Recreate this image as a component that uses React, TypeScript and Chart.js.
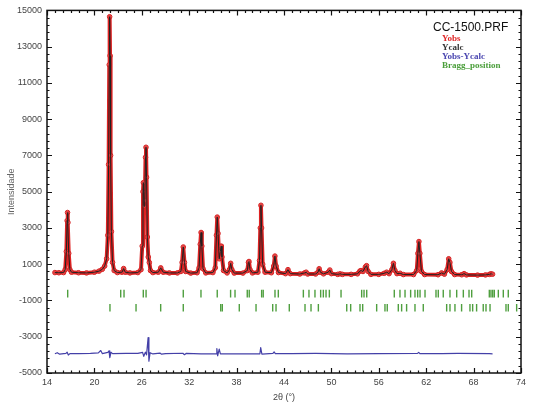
import React, { useEffect, useRef } from "react";
import { Chart, registerables } from "chart.js";

Chart.register(...registerables);

// ---- Data ----
const X_MIN = 14;
const X_MAX = 74;
const X_STEP = 6;
const Y_MIN = -5000;
const Y_MAX = 15000;
const Y_STEP = 2000;

const legendTitle = "CC-1500.PRF";
const legendLabels = ["Yobs", "Ycalc", "Yobs-Ycalc", "Bragg_position"];
const legendColors = ["#e02828", "#333333", "#4a46b0", "#4a9e3a"];

const xTitle = "2θ (°)";
const yTitle = "Intensidade";

// observed profile [2θ, intensity]
const yObsPoints: [number, number][] = [
  [15.0, 540], [15.5, 530], [16.1, 540], [16.3, 700], [16.45, 1700], [16.55, 3400], [16.6, 3850],
  [16.65, 3300], [16.75, 1600], [16.9, 700], [17.1, 560], [18.0, 530], [19.0, 520], [20.0, 560],
  [20.6, 620], [21.0, 720], [21.3, 900], [21.55, 1300], [21.7, 2600], [21.8, 6500], [21.88, 12000],
  [21.93, 14650], [21.98, 12500], [22.05, 7000], [22.15, 2800], [22.3, 1100], [22.5, 650], [22.9, 540],
  [23.5, 560], [23.7, 760], [23.9, 560], [24.5, 520], [25.5, 540], [25.9, 700], [26.05, 2000],
  [26.15, 5000], [26.2, 5500], [26.28, 4200], [26.38, 4500], [26.47, 6900], [26.53, 7450], [26.6, 5800],
  [26.7, 2500], [26.82, 1400], [26.95, 1100], [27.1, 650], [27.4, 540], [28.1, 560], [28.4, 800],
  [28.7, 560], [29.5, 520], [30.5, 520], [30.95, 600], [31.1, 1100], [31.25, 1950], [31.4, 1100],
  [31.55, 600], [32.2, 510], [33.0, 530], [33.25, 800], [33.4, 2100], [33.5, 2750], [33.6, 2000],
  [33.75, 750], [34.1, 520], [35.0, 540], [35.3, 800], [35.45, 2600], [35.55, 3600], [35.65, 2700],
  [35.8, 1300], [35.95, 1700], [36.05, 2000], [36.15, 1400], [36.35, 650], [36.8, 520], [37.1, 700],
  [37.25, 1050], [37.4, 700], [37.7, 510], [38.8, 510], [39.35, 650], [39.5, 1100], [39.57, 1150],
  [39.7, 700], [40.0, 520], [40.7, 560], [40.9, 1200], [41.0, 3000], [41.08, 4250], [41.16, 3000],
  [41.3, 1000], [41.6, 560], [42.4, 530], [42.7, 900], [42.85, 1450], [43.0, 900], [43.3, 540],
  [44.2, 480], [44.5, 700], [44.8, 480], [46.0, 460], [46.6, 520], [46.8, 560], [47.0, 460],
  [48.0, 460], [48.3, 560], [48.45, 750], [48.6, 560], [49.0, 470], [49.6, 560], [49.8, 680],
  [50.0, 480], [50.8, 440], [51.1, 470], [51.4, 440], [52.5, 440], [53.3, 470], [53.6, 620],
  [53.75, 650], [54.0, 600], [54.3, 850], [54.45, 920], [54.65, 600], [55.0, 440], [56.0, 440],
  [56.7, 500], [57.0, 560], [57.3, 480], [57.65, 700], [57.85, 1050], [58.05, 650], [58.3, 480],
  [58.7, 500], [59.1, 430], [60.4, 430], [60.8, 650], [60.95, 1600], [61.08, 2250], [61.2, 1600],
  [61.4, 600], [61.8, 430], [63.5, 420], [63.95, 520], [64.3, 450], [64.65, 700], [64.85, 1300],
  [65.0, 1100], [65.2, 600], [65.6, 430], [66.5, 420], [66.8, 480], [67.1, 410], [68.5, 400],
  [69.5, 410], [70.0, 440], [70.2, 470], [70.4, 450],
];

// calculated profile (visually coincident with the observed one)
const yCalcPoints: [number, number][] = yObsPoints;

// difference curve [2θ, Yobs-Ycalc]
const diffPoints: [number, number][] = [
  [15.0, -3940], [15.3, -3880], [15.6, -3960], [16.4, -3920], [16.55, -3850], [16.7, -4010],
  [16.9, -3930], [18.0, -3930], [19.5, -3920], [20.5, -3890], [20.8, -3760], [21.0, -3930],
  [21.7, -3860], [21.85, -3780], [21.95, -4150], [22.1, -3860], [22.3, -3930], [24.0, -3920],
  [25.5, -3920], [26.1, -3860], [26.25, -4080], [26.45, -3850], [26.6, -4000], [26.8, -3050],
  [26.9, -4350], [27.05, -3880], [27.4, -3950], [28.3, -3900], [28.5, -3960], [29.0, -3930],
  [31.2, -3910], [31.4, -3990], [31.6, -3920], [33.5, -3940], [35.4, -3940], [35.5, -3650],
  [35.6, -4050], [35.8, -3680], [35.95, -3950], [37.0, -3940], [40.95, -3940], [41.05, -3600],
  [41.2, -3960], [42.6, -3920], [42.75, -3840], [42.9, -3930], [45.0, -3930], [48.0, -3920],
  [52.0, -3940], [56.0, -3930], [60.9, -3920], [61.05, -3860], [61.2, -3930], [64.0, -3930],
  [66.0, -3920], [70.0, -3930], [70.4, -3940],
];

// Bragg reflection positions (two phases)
const braggRow1: number[] = [
  16.62, 23.33, 23.75, 26.19, 26.54, 31.25, 33.49, 35.55, 37.24, 37.8, 39.35, 39.6, 41.17, 41.37,
  42.86, 43.28, 46.45, 47.16, 47.92, 48.64, 48.98, 49.32, 49.74, 51.22, 53.83, 54.13, 54.47, 57.96,
  58.68, 59.32, 60.03, 60.58, 60.92, 61.22, 61.85, 63.24, 63.53, 64.16, 65.01, 65.86, 66.7, 67.42,
  67.76, 69.99, 70.2, 70.42, 70.62, 71.13, 71.76, 72.39,
];
const braggRow2: number[] = [
  21.97, 25.27, 28.39, 31.25, 35.99, 36.19, 38.34, 40.46, 42.57, 42.99, 44.67, 46.66, 47.42, 48.35,
  51.94, 52.44, 53.62, 53.96, 55.73, 56.78, 57.07, 58.47, 58.89, 59.52, 60.58, 61.63, 64.59, 65.01,
  65.64, 66.48, 67.54, 67.88, 68.38, 69.22, 69.57, 70.08, 72.1, 72.39, 73.45,
];
const braggRow1Level = -620;
const braggRow2Level = -1400;

// ---- Plugins ----
const framePlugin = {
  id: "frameTicks",
  afterDraw(chart: any) {
    const { ctx, chartArea: a, scales } = chart;
    const xs = scales.x;
    const ys = scales.y;
    ctx.save();
    ctx.strokeStyle = "#111";
    ctx.lineWidth = 1.2;
    ctx.beginPath();
    for (let v = X_MIN; v <= X_MAX; v += 1) {
      const px = Math.round(xs.getPixelForValue(v)) + 0.5;
      const major = (v - X_MIN) % X_STEP === 0;
      const len = major ? 5 : 2.5;
      ctx.moveTo(px, a.bottom);
      ctx.lineTo(px, a.bottom - len);
      ctx.moveTo(px, a.top);
      ctx.lineTo(px, a.top + len);
    }
    for (let v = Y_MIN; v <= Y_MAX; v += 400) {
      const py = Math.round(ys.getPixelForValue(v)) + 0.5;
      const major = (v - Y_MIN) % Y_STEP === 0;
      const len = major ? 5 : 2.5;
      ctx.moveTo(a.left, py);
      ctx.lineTo(a.left + len, py);
      ctx.moveTo(a.right, py);
      ctx.lineTo(a.right - len, py);
    }
    ctx.stroke();
    ctx.lineWidth = 1.5;
    ctx.strokeRect(a.left, a.top, a.right - a.left, a.bottom - a.top);

    // legend block
    ctx.textBaseline = "middle";
    ctx.textAlign = "left";
    ctx.fillStyle = "#111";
    ctx.font = "12px 'Liberation Sans', Arial, sans-serif";
    ctx.fillText(legendTitle, a.right - 88, a.top + 17);
    ctx.font = "bold 9px 'Liberation Serif', 'Times New Roman', serif";
    legendLabels.forEach((t, i) => {
      ctx.fillStyle = legendColors[i];
      ctx.fillText(t, a.right - 79, a.top + 28 + i * 9);
    });
    ctx.restore();
  },
};

export default function App() {
  const ref = useRef<HTMLCanvasElement | null>(null);

  useEffect(() => {
    if (!ref.current) return;
    Chart.defaults.font.family = "'Liberation Sans', Arial, sans-serif";
    const chart = new Chart(ref.current, {
      type: "line",
      data: {
        datasets: [
          {
            label: "Ycalc",
            data: yCalcPoints.map(([x, y]) => ({ x, y })),
            borderColor: "#222222",
            borderWidth: 1,
            pointRadius: 0,
            order: 1,
          },
          {
            label: "Yobs",
            data: yObsPoints.map(([x, y]) => ({ x, y })),
            borderColor: "#dd2222",
            borderWidth: 4,
            borderJoinStyle: "round",
            borderCapStyle: "round",
            pointRadius: 2.3,
            pointBorderWidth: 1,
            pointBorderColor: "#d42020",
            pointBackgroundColor: "rgba(240,120,120,0.35)",
            order: 3,
          },
          {
            label: "Yobs-Ycalc",
            data: diffPoints.map(([x, y]) => ({ x, y })),
            borderColor: "#4440a8",
            borderWidth: 1.2,
            borderJoinStyle: "round",
            pointRadius: 0,
            order: 2,
          },
          {
            label: "Bragg1",
            data: braggRow1.map((x) => ({ x, y: braggRow1Level })),
            showLine: false,
            pointStyle: "line",
            rotation: 90,
            pointRadius: 3.8,
            pointBorderWidth: 1.4,
            pointBorderColor: "#4f9f3f",
            borderColor: "#4f9f3f",
            order: 2,
          },
          {
            label: "Bragg2",
            data: braggRow2.map((x) => ({ x, y: braggRow2Level })),
            showLine: false,
            pointStyle: "line",
            rotation: 90,
            pointRadius: 3.8,
            pointBorderWidth: 1.4,
            pointBorderColor: "#4f9f3f",
            borderColor: "#4f9f3f",
            order: 2,
          },
        ],
      } as any,
      options: {
        animation: false,
        responsive: false,
        devicePixelRatio: 1,
        layout: { padding: { top: 10, right: 15, left: 0, bottom: 0 } },
        plugins: { legend: { display: false }, tooltip: { enabled: false } },
        elements: { line: { tension: 0 } },
        scales: {
          x: {
            type: "linear",
            min: X_MIN,
            max: X_MAX,
            grid: { display: false, drawTicks: false },
            border: { display: false },
            ticks: { stepSize: X_STEP, padding: 4, color: "#444", font: { size: 9 }, callback: (v: any) => String(v) },
            title: { display: true, text: xTitle, color: "#444", font: { size: 9 }, padding: { top: 0, bottom: 5 } },
            afterFit: (s: any) => { s.height = 35; },
          },
          y: {
            type: "linear",
            min: Y_MIN,
            max: Y_MAX,
            grid: { display: false, drawTicks: false },
            border: { display: false },
            ticks: { stepSize: Y_STEP, padding: 5, color: "#444", font: { size: 9 }, callback: (v: any) => String(v) },
            title: { display: true, text: yTitle, color: "#666", font: { size: 9 }, padding: { top: 6, bottom: 0 } },
            afterFit: (s: any) => { s.width = 47; },
          },
        },
      } as any,
      plugins: [framePlugin],
    });
    return () => chart.destroy();
  }, []);

  return (
    <div style={{ position: "absolute", left: 0, top: 0, width: 536, height: 408, background: "#fff" }}>
      <canvas ref={ref} width={536} height={408} style={{ display: "block", width: 536, height: 408 }} />
    </div>
  );
}
